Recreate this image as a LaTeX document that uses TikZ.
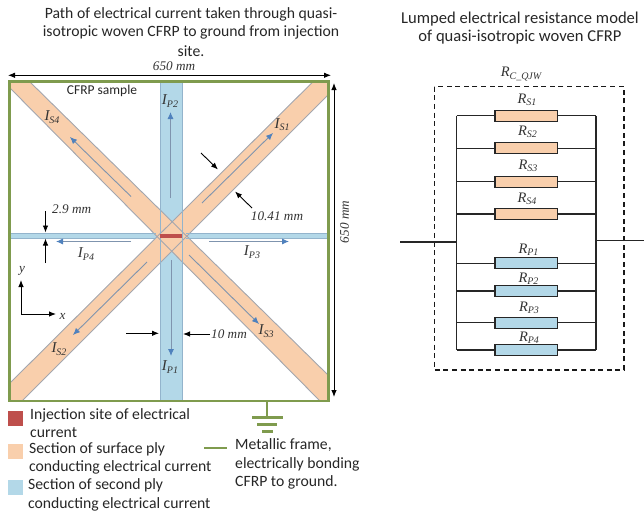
\documentclass[tikz,border=0pt]{standalone}
\usepackage{fontspec}
\setmainfont{Carlito}
\newfontfamily\tms{Liberation Serif}
\usetikzlibrary{arrows.meta}
\definecolor{plyS}{HTML}{F9CFAC}
\definecolor{plyP}{HTML}{B3D8E8}
\definecolor{edgeS}{HTML}{A3A6AE}
\definecolor{edgeP}{HTML}{93B4CC}
\definecolor{frameG}{HTML}{7F9B4E}
\definecolor{injR}{HTML}{BE4F4C}
\definecolor{curB}{HTML}{4F81BD}
\definecolor{curL}{HTML}{7F94AE}
\newcommand{\lab}[2]{{\tms\itshape #1\raisebox{-0.35ex}{\fontsize{10}{11}\selectfont #2}}}
\tikzset{
  x=1pt,y=-1pt,
  txt/.style={font=\fontsize{15.7}{18}\selectfont,inner sep=0pt,text=black!85},
  ttl/.style={txt,anchor=center},
  ttlb/.style={txt,anchor=center,font=\fontsize{16.6}{18}\selectfont},
  leg/.style={txt,anchor=west},
  ser/.style={font=\tms\itshape\fontsize{13.2}{15}\selectfont,inner sep=0pt,text=black!80},
  cur/.style={ser,font=\fontsize{15}{17}\selectfont},
  dim/.style={black,line width=0.9pt,-{Latex[length=7pt,width=5.5pt]}},
  flow/.style={curL,line width=0.9pt,-{Latex[length=7pt,width=6pt,color=curB]}},
  edgeline/.style={edgeS,line width=0.9pt},
  pedge/.style={edgeP,line width=0.9pt},
  res/.style={draw=black!85,line width=1.2pt,minimum width=62.5pt,minimum height=11pt,inner sep=0pt,fill=#1},
  wire/.style={black!85,line width=1.1pt},
  frm/.style={frameG,line width=2.3pt},
  rlab/.style={ser,font=\fontsize{14.5}{16}\selectfont},
}
\begin{document}
\begin{tikzpicture}
\useasboundingbox (0,0) rectangle (644,514);
% titles
\node[ttl] (t1) at (191,14) {Path of electrical current taken through quasi-};
\node[ttl] (t2) at (191,32.5) {isotropic woven CFRP to ground from injection};
\node[ttl] (t3) at (191,51) {site.};
\node[ttlb] (t4) at (520,19.5) {Lumped electrical resistance model};
\node[ttlb] (t5) at (520,37) {of quasi-isotropic woven CFRP};
% plies
\fill[plyP] (160,82) rectangle (182,401);
\fill[plyP] (10,233) rectangle (160,238);
\fill[plyP] (182,233) rectangle (328,238);
\fill[plyS] (10,82) -- (30,82) -- (328,375) -- (328,401) -- (320,401) -- (10,88) -- cycle;
\fill[plyS] (312.7,82) -- (328,82) -- (328,95) -- (22,401) -- (10,401) -- (10,383) -- cycle;
\draw[edgeline] (30,82) -- (328,375);
\draw[edgeline] (10,88) -- (320,401);
\draw[edgeline] (312.7,82) -- (10,383);
\draw[edgeline] (328,95) -- (22,401);
\draw[pedge] (160,82) -- (160,401);
\draw[pedge] (182,82) -- (182,401);
\draw[pedge] (10,233) -- (156,233) (186,233) -- (328,233);
\draw[pedge] (10,238) -- (156,238) (186,238) -- (328,238);
\fill[injR] (160,233.5) rectangle (182,237.8);
% frame
\draw[frm] (9.5,81.5) rectangle (328.5,401);
\coordinate (gtop) at (267,401);
\coordinate (gbot) at (267,417.5);
\draw[frm] (gtop) -- (gbot);
\draw[frm] (252,417.5) -- (283,417.5);
\draw[frm] (257,424.5) -- (277,424.5);
\draw[frm] (262,431.5) -- (273,431.5);
% dimension arrows
\draw[dim,{Latex[length=7pt,width=5.5pt]}-{Latex[length=7pt,width=5.5pt]}] (8,75.3) -- (331,75.3);
\draw[dim,{Latex[length=7pt,width=5.5pt]}-{Latex[length=7pt,width=5.5pt]}] (334,83) -- (334,397);
\node[ser] (d1) at (174,66.5) {650 mm};
\node[ser,rotate=90] (d2) at (344.5,222) {650 mm};
\node[ser,anchor=west] (d3) at (52,209) {2.9 mm};
\draw[dim] (45.5,211) -- (45.5,232.5);
\draw[dim] (45.5,263) -- (45.5,238.5);
\draw[dim] (201,153) -- (218,169.5);
\draw[dim] (252,208) -- (235,191.5);
\node[ser] (d4) at (277,216) {10.41 mm};
\draw[dim] (126,333.3) -- (159,333.3);
\draw[dim] (210,334) -- (183,334);
\node[ser] (d5) at (229,334) {10 mm};
% axes
\coordinate (o) at (21,314);
\coordinate (ay) at (21,280);
\coordinate (ax) at (56,314);
\draw[dim] (o) -- (ay);
\draw[dim] (o) -- (ax);
\node[ser] (ylab) at (22,271) {y};
\node[ser] (xlab) at (62.5,316) {x};
% current flows
\draw[flow] (170.5,198) -- (170.5,112);
\draw[flow] (131,196.5) -- (70,137);
\draw[flow] (131,241.5) -- (56,241.5);
\draw[flow] (209,241.5) -- (289,241.5);
\draw[flow] (189,255) -- (259,324);
\draw[flow] (171,260) -- (171,356);
\draw[flow] (202,203) -- (273,133);
\draw[flow] (147,262) -- (73,335);
\node[cur] (is4) at (52,117) {\lab{I}{S4}};
\node[cur] (ip2) at (170,101) {\lab{I}{P2}};
\node[cur] (is1) at (282,124.5) {\lab{I}{S1}};
\node[cur] (ip3) at (252,252) {\lab{I}{P3}};
\node[cur] (is3) at (266,331) {\lab{I}{S3}};
\node[cur] (ip1) at (170,367) {\lab{I}{P1}};
\node[cur] (is2) at (59,349) {\lab{I}{S2}};
\node[cur] (ip4) at (86,254) {\lab{I}{P4}};
\node[txt,font=\fontsize{13.5}{15}\selectfont] (cs) at (102,91) {CFRP sample};
% legend
\fill[injR] (8,411) rectangle (23,426);
\fill[plyS] (8,444) rectangle (23,459);
\fill[plyP] (8,480) rectangle (23,495);
\draw[frm] (204,448) -- (227,448);
\node[leg] (l1) at (30,415) {Injection site of electrical};
\node[leg] (l2) at (30,432.5) {current};
\node[leg] (l3) at (29,449.5) {Section of surface ply};
\node[leg] (l4) at (29,467) {conducting electrical current};
\node[leg] (l5) at (28,485) {Section of second ply};
\node[leg] (l6) at (28,504) {conducting electrical current};
\node[leg] (l7) at (235,445) {Metallic frame,};
\node[leg] (l8) at (235,464) {electrically bonding};
\node[leg] (l9) at (235,482) {CFRP to ground.};
% resistance model
\draw[black!90,line width=1.2pt,dash pattern=on 5pt off 3.6pt] (434.3,86.7) rectangle (624,370);
\coordinate (lt) at (456.7,115.7);
\coordinate (lb) at (456.7,350);
\coordinate (rt) at (596,115.7);
\coordinate (rb) at (596,350);
\draw[wire] (lt) -- (lb);
\draw[wire] (rt) -- (rb);
\coordinate (inL) at (400,242);
\coordinate (inJ) at (456.7,242);
\coordinate (outJ) at (596,240.5);
\coordinate (outR) at (644,240.5);
\draw[wire] (inL) -- (inJ);
\draw[wire] (outJ) -- (outR);
\foreach \n/\y/\c in {s1/115.7/plyS,s2/148.3/plyS,s3/181.7/plyS,s4/214/plyS,p1/263.3/plyP,p2/291/plyP,p3/322.7/plyP,p4/350/plyP}{
  \node[res=\c] (r\n) at (526.3,\y) {};
  \coordinate (wl\n) at (456.7,\y);
  \coordinate (wr\n) at (596,\y);
  \draw[wire] (wl\n) -- (r\n);
  \draw[wire] (r\n) -- (wr\n);
}
\node[rlab] (lq) at (521,74) {\lab{R}{C\_QJW}};
\node[rlab] (ls1) at (527,100) {\lab{R}{S1}};
\node[rlab] (ls2) at (527.5,132) {\lab{R}{S2}};
\node[rlab] (ls3) at (528,165.5) {\lab{R}{S3}};
\node[rlab] (ls4) at (527,199) {\lab{R}{S4}};
\node[rlab] (lp1) at (528.5,250) {\lab{R}{P1}};
\node[rlab] (lp2) at (528.5,279) {\lab{R}{P2}};
\node[rlab] (lp3) at (529,308) {\lab{R}{P3}};
\node[rlab] (lp4) at (529,337.5) {\lab{R}{P4}};
\end{tikzpicture}
\end{document}
